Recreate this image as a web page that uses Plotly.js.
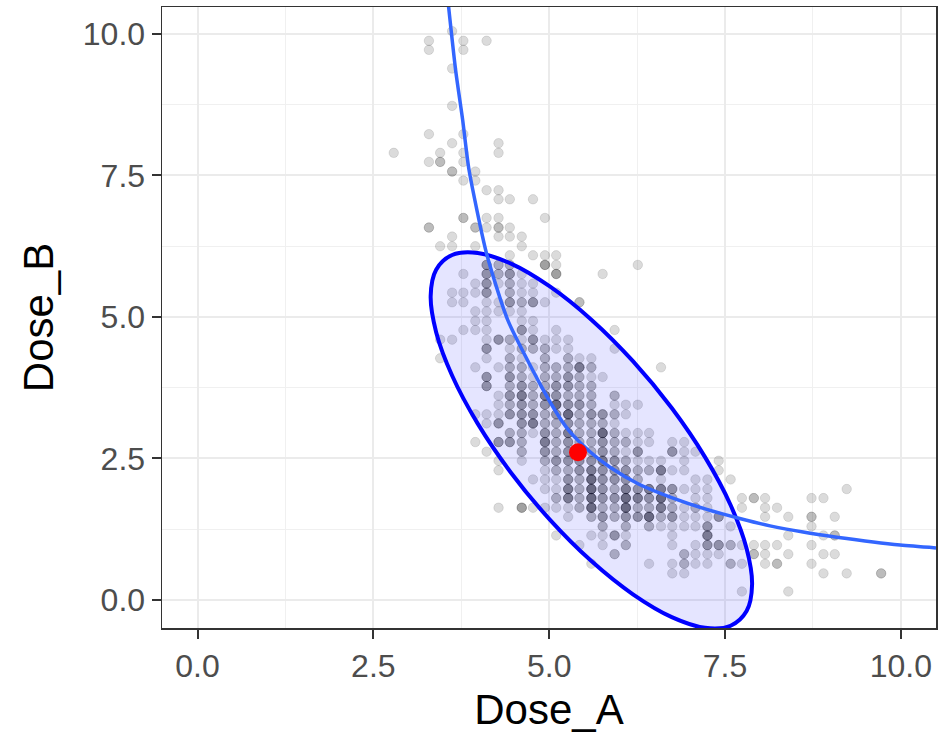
<!DOCTYPE html>
<html>
<head>
<meta charset="utf-8">
<script src="https://cdn.plot.ly/plotly-3.0.1.min.js"></script>
<style>html,body{margin:0;padding:0;background:#fff;}#chart{width:946px;height:735px;}</style>
</head>
<body>
<div id="chart"></div>
<script>
// Sampled (Dose_A, Dose_B) pairs on a grid; one row per Dose_B level.
// rowCount = how many samples share the same grid cell (overplotting depth).
const rowDoseB = [10.05, 9.88, 9.72, 9.39, 8.73, 8.23, 8.07, 7.90, 7.74, 7.57, 7.41, 7.24, 7.08, 6.75, 6.58, 6.42, 6.25, 6.09, 5.92, 5.76, 5.59, 5.43, 5.26, 5.10, 4.93, 4.77, 4.60, 4.44, 4.27, 4.11, 3.94, 3.78, 3.61, 3.45, 3.28, 3.12, 2.95, 2.79, 2.62, 2.46, 2.29, 2.13, 1.96, 1.80, 1.63, 1.47, 1.30, 1.14, 0.97, 0.81, 0.64, 0.47, 0.15];
const rowDoseA = [
  [3.62],
  [3.29, 3.78, 4.11],
  [3.29, 3.78],
  [3.62],
  [3.62],
  [3.29, 3.78],
  [3.62, 4.28],
  [2.79, 3.45, 3.78, 4.28],
  [3.29, 3.45, 3.78],
  [3.62, 3.95],
  [3.78, 3.95],
  [4.11, 4.28],
  [4.28, 4.44, 4.77],
  [3.78, 4.11, 4.28, 4.94],
  [3.29, 3.95, 4.11, 4.28, 4.44],
  [3.62, 4.28, 4.44, 4.61],
  [3.45, 3.62, 3.95, 4.61],
  [4.44, 4.77, 4.94, 5.10],
  [4.11, 4.28, 4.44, 4.94, 5.10, 6.26],
  [3.78, 4.11, 4.28, 4.44, 4.61, 5.10, 5.76],
  [3.95, 4.11, 4.28, 4.44, 4.61, 4.77],
  [3.62, 3.78, 3.95, 4.11, 4.44, 4.61, 4.77, 5.10],
  [3.62, 3.78, 4.11, 4.28, 4.44, 4.61, 4.77, 4.94, 5.43],
  [3.95, 4.11, 4.28, 4.44, 4.61],
  [3.95, 4.11, 4.61, 4.77],
  [3.78, 3.95, 4.11, 4.61, 4.77, 5.10, 5.93],
  [3.45, 3.62, 4.11, 4.28, 4.44, 4.61, 4.77, 4.94, 5.10, 5.27],
  [4.11, 4.44, 4.61, 4.77, 4.94, 5.10, 5.27, 5.93],
  [3.45, 4.11, 4.44, 4.61, 4.94, 5.27, 5.43, 5.60],
  [3.95, 4.28, 4.44, 4.61, 4.77, 4.94, 5.10, 5.27, 5.43, 5.60, 6.59],
  [4.11, 4.44, 4.61, 4.77, 4.94, 5.10, 5.27, 5.43, 5.60, 5.76],
  [4.11, 4.44, 4.61, 4.77, 4.94, 5.10, 5.27, 5.43, 5.60],
  [4.28, 4.44, 4.61, 4.77, 4.94, 5.10, 5.27, 5.43, 5.60, 5.93],
  [4.28, 4.44, 4.61, 4.77, 4.94, 5.10, 5.27, 5.43, 5.60, 5.93, 6.09, 6.26],
  [3.95, 4.11, 4.28, 4.44, 4.61, 4.77, 4.94, 5.10, 5.27, 5.43, 5.60, 5.76, 5.93, 6.09],
  [4.11, 4.28, 4.61, 4.77, 4.94, 5.10, 5.27, 5.43, 5.60, 5.76, 5.93],
  [4.44, 4.61, 4.77, 4.94, 5.10, 5.27, 5.43, 5.60, 5.76, 5.93, 6.09, 6.26, 6.42],
  [3.95, 4.28, 4.44, 4.61, 4.94, 5.10, 5.27, 5.43, 5.60, 5.76, 5.93, 6.09, 6.26, 6.42, 6.75, 6.92],
  [4.11, 4.61, 4.94, 5.10, 5.27, 5.43, 5.60, 5.76, 5.93, 6.09, 6.26, 6.75, 6.92, 7.08],
  [4.28, 4.61, 4.94, 5.10, 5.27, 5.43, 5.60, 5.76, 5.93, 6.09, 6.26, 6.42, 6.59, 6.92, 7.41],
  [4.28, 4.94, 5.10, 5.27, 5.43, 5.60, 5.76, 5.93, 6.09, 6.26, 6.42, 6.59, 6.75, 6.92, 7.41],
  [4.77, 4.94, 5.10, 5.27, 5.43, 5.60, 5.76, 5.93, 6.09, 6.26, 6.59, 7.08, 7.25, 7.58],
  [4.94, 5.10, 5.27, 5.43, 5.60, 5.76, 5.93, 6.09, 6.26, 6.42, 6.59, 6.75, 6.92, 7.08, 7.25, 9.23],
  [5.10, 5.27, 5.43, 5.60, 5.76, 5.93, 6.09, 6.26, 6.42, 6.59, 6.75, 7.08, 7.25, 7.74, 7.91, 8.07, 8.73, 8.90],
  [4.28, 4.61, 4.77, 4.94, 5.10, 5.27, 5.43, 5.60, 5.76, 5.93, 6.09, 6.26, 6.42, 6.59, 6.75, 6.92, 7.08, 7.25, 7.74, 8.07, 8.24],
  [5.27, 5.60, 5.76, 5.93, 6.09, 6.26, 6.42, 6.59, 6.75, 6.92, 7.08, 7.25, 7.41, 8.07, 8.40, 8.73, 9.06],
  [5.76, 6.09, 6.42, 6.59, 6.75, 6.92, 7.08, 7.25, 7.58, 8.73],
  [5.10, 5.60, 5.76, 5.93, 6.09, 6.75, 7.25, 8.40, 8.90, 9.06],
  [5.43, 5.76, 6.09, 6.75, 7.08, 7.25, 7.41, 7.58, 7.74, 7.91, 8.07, 8.24, 8.73],
  [5.93, 6.92, 7.08, 7.25, 7.41, 7.91, 8.07, 8.40, 8.90, 9.06],
  [5.60, 6.42, 6.75, 6.92, 7.08, 7.25, 7.58, 7.74, 8.07, 8.24, 8.73],
  [6.75, 6.92, 8.90, 9.23, 9.72],
  [7.74, 8.40]
];
const rowCount = [
  [1],
  [1, 1, 1],
  [1, 1],
  [1],
  [1],
  [1, 1],
  [1, 1],
  [1, 1, 1, 1],
  [1, 2, 1],
  [2, 1],
  [1, 1],
  [1, 1],
  [1, 1, 1],
  [2, 1, 1, 1],
  [2, 2, 1, 2, 1],
  [1, 1, 1, 1],
  [1, 1, 1, 1],
  [1, 1, 1, 1],
  [3, 2, 2, 3, 1, 1],
  [1, 3, 2, 3, 1, 3, 1],
  [1, 3, 1, 2, 1, 1],
  [1, 1, 1, 3, 2, 1, 1, 1],
  [1, 1, 1, 1, 3, 2, 3, 1, 2],
  [1, 1, 1, 1, 1],
  [1, 1, 1, 1],
  [1, 1, 1, 3, 1, 1, 1],
  [1, 1, 1, 3, 2, 1, 3, 1, 1, 1],
  [3, 1, 2, 2, 2, 1, 1, 1],
  [1, 1, 2, 1, 2, 2, 1, 1],
  [1, 1, 2, 2, 1, 2, 2, 2, 4, 2, 1],
  [3, 3, 2, 1, 2, 2, 3, 2, 1, 1],
  [3, 2, 3, 2, 2, 3, 3, 2, 2],
  [1, 3, 4, 2, 4, 3, 2, 2, 2, 2],
  [1, 2, 3, 2, 3, 5, 3, 3, 2, 1, 1, 1],
  [1, 1, 1, 3, 3, 3, 2, 3, 5, 2, 3, 3, 2, 1],
  [1, 3, 3, 4, 2, 2, 3, 2, 2, 2, 1],
  [2, 2, 1, 3, 2, 4, 2, 2, 5, 2, 1, 1, 1],
  [1, 3, 3, 2, 4, 2, 3, 2, 2, 3, 2, 2, 1, 1, 1, 1],
  [1, 2, 3, 2, 3, 3, 2, 3, 2, 1, 3, 3, 1, 1],
  [1, 1, 2, 3, 3, 3, 3, 4, 3, 2, 1, 1, 1, 1, 1],
  [1, 1, 2, 2, 3, 4, 3, 3, 3, 2, 2, 4, 1, 1, 1],
  [1, 1, 1, 3, 2, 5, 3, 3, 3, 2, 1, 1, 1, 1],
  [1, 1, 4, 2, 5, 3, 2, 4, 3, 4, 4, 3, 1, 1, 1, 1],
  [2, 4, 2, 5, 3, 3, 5, 4, 3, 5, 2, 1, 1, 1, 2, 1, 1, 1],
  [1, 3, 1, 1, 1, 1, 2, 5, 2, 2, 5, 2, 2, 4, 2, 1, 2, 1, 1, 1, 1],
  [1, 2, 3, 2, 3, 3, 5, 2, 3, 1, 1, 1, 3, 1, 1, 2, 1],
  [2, 2, 2, 1, 1, 1, 1, 3, 1, 1],
  [1, 1, 1, 3, 1, 1, 4, 1, 1, 2],
  [1, 1, 2, 1, 1, 3, 3, 2, 1, 1, 1, 1, 1],
  [2, 2, 1, 1, 1, 2, 1, 1, 1, 1],
  [1, 1, 1, 2, 1, 1, 2, 1, 1, 2, 1],
  [1, 1, 1, 1, 2],
  [1, 1]
];

// Smooth iso-response curve
const curveDoseA = [3.57, 3.67, 3.77, 3.86, 4.11, 4.41, 4.89, 5.15, 5.29, 5.58, 5.86, 6.27, 6.76, 7.24, 7.71, 8.14, 8.61, 9.09, 9.99, 10.5];
const curveDoseB = [10.48, 9.36, 8.48, 7.60, 6.12, 4.95, 3.77, 3.22, 2.98, 2.62, 2.35, 2.05, 1.80, 1.60, 1.44, 1.31, 1.20, 1.11, 0.97, 0.92];

// Confidence ellipse outline
const ellipseDoseA = [7.885, 7.807, 7.579, 7.216, 6.743, 6.191, 5.600, 5.009, 4.457, 3.984, 3.621, 3.393, 3.315, 3.393, 3.621, 3.984, 4.457, 5.009, 5.600, 6.191, 6.743, 7.216, 7.579, 7.807, 7.885];
const ellipseDoseB = [0.269, 0.908, 1.678, 2.524, 3.391, 4.220, 4.953, 5.540, 5.943, 6.132, 6.096, 5.836, 5.371, 4.732, 3.962, 3.116, 2.249, 1.420, 0.687, 0.100, -0.303, -0.492, -0.456, -0.196, 0.269];

// Highlighted optimum
const optimumDoseA = [5.41];
const optimumDoseB = [2.61];

const tickValues = [0, 2.5, 5, 7.5, 10];
const tickLabels = ['0.0', '2.5', '5.0', '7.5', '10.0'];

// expand overplotted cells into individual samples
const sampleA = [], sampleB = [];
rowDoseB.forEach((b, i) => {
  rowDoseA[i].forEach((a, j) => {
    for (let k = 0; k < rowCount[i][j]; k++) { sampleA.push(a); sampleB.push(b); }
  });
});

const FONT = '"Liberation Sans", Arial, Helvetica, sans-serif';

const traces = [
  {
    type: 'scatter', mode: 'markers', x: sampleA, y: sampleB,
    marker: { size: 9.5, color: 'rgba(0,0,0,0.14)', line: { width: 1, color: 'rgba(0,0,0,0.1)' } },
    hoverinfo: 'skip', showlegend: false
  },
  {
    type: 'scatter', mode: 'lines', x: ellipseDoseA, y: ellipseDoseB,
    fill: 'toself', fillcolor: 'rgba(0,0,255,0.1)',
    line: { color: '#0000FF', width: 4, shape: 'spline', smoothing: 1 },
    hoverinfo: 'skip', showlegend: false
  },
  {
    type: 'scatter', mode: 'lines', x: curveDoseA, y: curveDoseB,
    line: { color: '#3366FF', width: 3.5, shape: 'spline', smoothing: 0.6 },
    hoverinfo: 'skip', showlegend: false
  },
  {
    type: 'scatter', mode: 'markers', x: optimumDoseA, y: optimumDoseB,
    marker: { size: 18, color: '#FF0000' },
    hoverinfo: 'skip', showlegend: false
  }
];

const axisCommon = {
  tickvals: tickValues, ticktext: tickLabels,
  showgrid: true, gridcolor: '#EBEBEB', gridwidth: 2,
  minor: { tickvals: [-1.25, 1.25, 3.75, 6.25, 8.75], showgrid: true, gridcolor: '#F0F0F0', gridwidth: 1, ticks: '' },
  zeroline: false,
  showline: true, mirror: true, linecolor: '#333333', linewidth: 1.5,
  ticks: 'outside', ticklen: 9, tickwidth: 2, tickcolor: '#333333',
  tickfont: { family: FONT, size: 32, color: '#4D4D4D' },
  fixedrange: true
};

const layout = {
  width: 946, height: 735,
  margin: { l: 162, r: 10, t: 7, b: 107 },
  paper_bgcolor: '#FFFFFF', plot_bgcolor: '#FFFFFF',
  showlegend: false,
  font: { family: FONT },
  xaxis: Object.assign({}, axisCommon, {
    range: [-0.505, 10.5],
    title: { text: 'Dose_A', font: { family: FONT, size: 42, color: '#000000' }, standoff: 11 }
  }),
  yaxis: Object.assign({}, axisCommon, {
    range: [-0.495, 10.477],
    title: { text: 'Dose_B', font: { family: FONT, size: 42, color: '#000000' }, standoff: 16 }
  })
};

Plotly.newPlot('chart', traces, layout, { staticPlot: true, displayModeBar: false });
</script>
</body>
</html>
